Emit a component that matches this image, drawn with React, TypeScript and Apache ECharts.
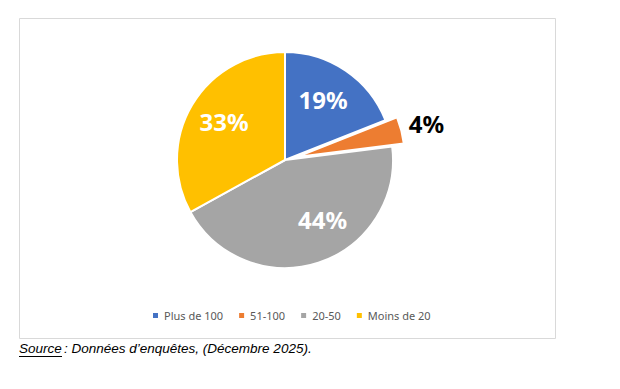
import React, { useEffect, useRef } from "react";
import * as echarts from "echarts";

const categories = ["Plus de 100", "51-100", "20-50", "Moins de 20"];
const values = [19, 4, 44, 33];
const colors = ["#4472C4", "#ED7D31", "#A5A5A5", "#FFC000"];
const sourceLabel = "Source";
const sourceRest = ": Données d’enquêtes, (Décembre 2025).";

export default function App() {
  const ref = useRef<HTMLDivElement>(null);
  useEffect(() => {
    if (!ref.current) return;
    const chart = echarts.init(ref.current, null, { renderer: "svg" });
    const labelOffsets: number[][] = [[-3, 0], [0, 0], [15, -10], [2, -1]];
    const mainData = categories.map((name, i) => ({
      name,
      value: values[i],
      selected: i === 1,
      itemStyle: { color: colors[i] },
    }));
    const overlayData = categories.map((name, i) => ({
      name,
      value: values[i],
      itemStyle: { color: "rgba(0,0,0,0)", borderWidth: 0 },
      label: { show: i !== 1, offset: labelOffsets[i] },
    }));
    const outerLabelData = categories.map((name, i) => ({
      name,
      value: values[i],
      itemStyle: { color: "rgba(0,0,0,0)", borderWidth: 0 },
      label: { show: i === 1 },
    }));
    const overlayBase = {
      type: "pie",
      center: [285, 160],
      startAngle: 90,
      clockwise: true,
      silent: true,
      selectedMode: false,
      avoidLabelOverlap: false,
      legendHoverLink: false,
      emphasis: { disabled: true },
      labelLine: { show: false },
    };
    chart.setOption({
      animation: false,
      backgroundColor: "#ffffff",
      graphic: [
        {
          type: "rect",
          z: -10,
          shape: { x: 19.5, y: 18.5, width: 536, height: 320 },
          style: { fill: "#ffffff", stroke: "#d9d9d9", lineWidth: 1 },
        },
        {
          type: "text",
          x: 19,
          y: 341,
          style: {
            text: sourceLabel,
            fontFamily: "Liberation Sans",
            fontStyle: "italic",
            fontSize: 13.5,
            fill: "#000",
          },
        },
        {
          type: "line",
          shape: { x1: 19, y1: 356.5, x2: 62, y2: 356.5 },
          style: { stroke: "#000", lineWidth: 1 },
        },
        {
          type: "text",
          x: 64,
          y: 341,
          style: {
            text: sourceRest,
            fontFamily: "Liberation Sans",
            fontStyle: "italic",
            fontSize: 13.5,
            fill: "#000",
          },
        },
      ],
      legend: {
        data: categories,
        left: 146,
        top: 305,
        icon: "rect",
        itemWidth: 7,
        itemHeight: 7,
        itemGap: 14,
        textStyle: { color: "#595959", fontSize: 11, fontFamily: "Noto Sans" },
      },
      series: [
        {
          type: "pie",
          center: [285, 160],
          radius: [0, 108],
          startAngle: 90,
          clockwise: true,
          selectedMode: "single",
          selectedOffset: 12,
          avoidLabelOverlap: false,
          itemStyle: { borderColor: "#ffffff", borderWidth: 2 },
          emphasis: { disabled: true },
          label: { show: false },
          labelLine: { show: false },
          data: mainData,
        },
        {
          ...overlayBase,
          radius: [0, 140],
          label: {
            position: "inside",
            color: "#ffffff",
            fontSize: 24,
            fontWeight: "bold",
            fontFamily: "Noto Sans",
            formatter: "{c}%",
          },
          data: overlayData,
        },
        {
          ...overlayBase,
          radius: [130, 156],
          label: {
            position: "inside",
            color: "#000000",
            fontSize: 24,
            fontWeight: "bold",
            fontFamily: "Noto Sans",
            formatter: "{c}%",
          },
          data: outerLabelData,
        },
      ],
    });
    return () => chart.dispose();
  }, []);
  return (
    <div
      ref={ref}
      style={{ position: "fixed", left: 0, top: 0, width: 620, height: 389 }}
    />
  );
}
